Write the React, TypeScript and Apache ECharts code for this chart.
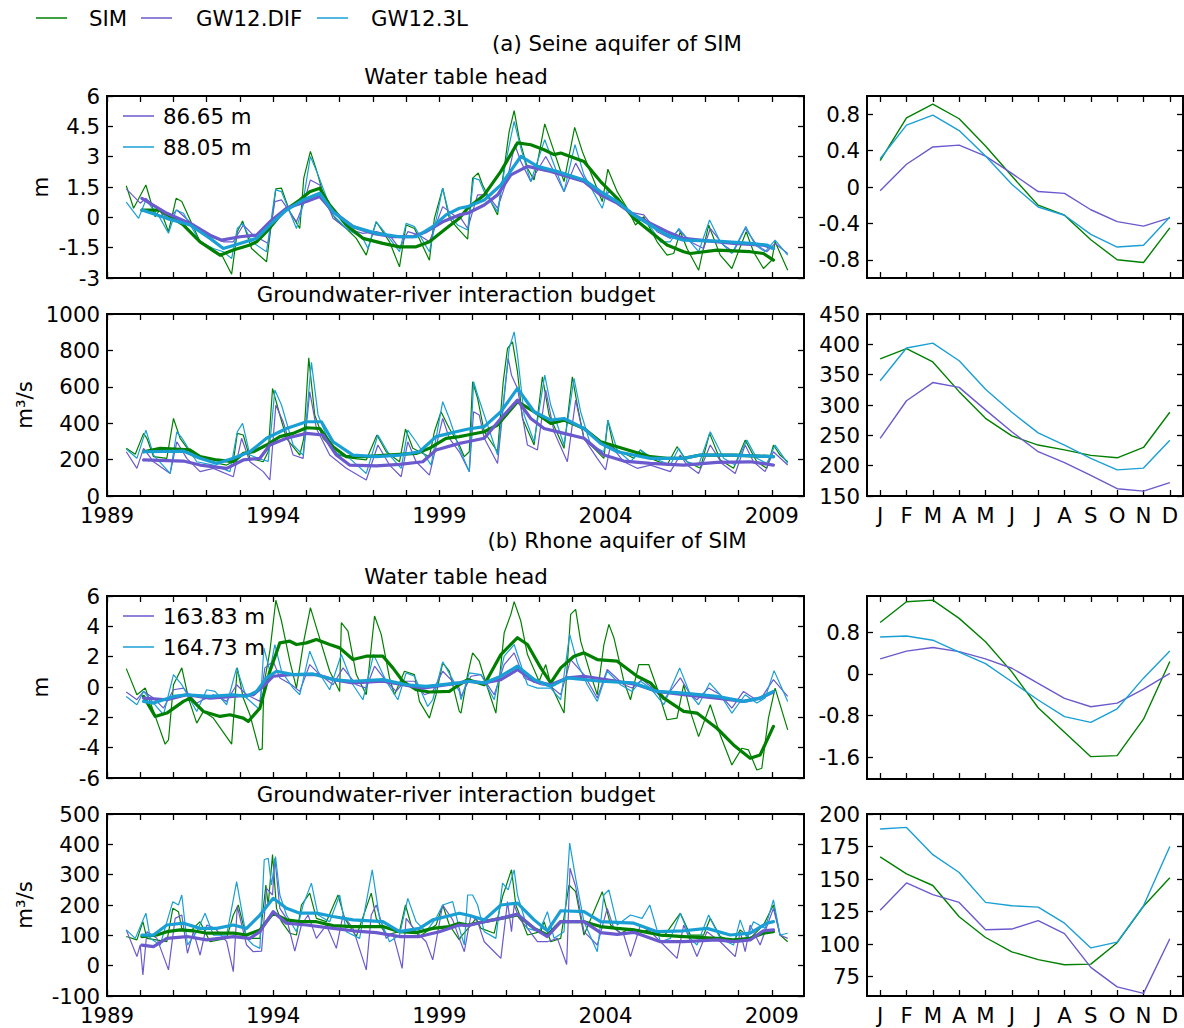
import React, { useEffect, useRef } from "react";
import * as echarts from "echarts";

// ---------- labels ----------
const monthLabels = ["J", "F", "M", "A", "M", "J", "J", "A", "S", "O", "N", "D"];
const yearLabelTicks = [1989, 1994, 1999, 2004, 2009];
const seriesNames = ["SIM", "GW12.DIF", "GW12.3L"];

// ---------- (a) Seine: water table head (m), monthly anomalies ----------
const seineHeadSim = [[1989.58,1.56],[1989.8,0.45],[1990.17,1.6],[1990.45,0.03],[1990.6,0.41],[1990.85,-0.71],[1991.08,0.94],[1991.25,0.78],[1991.8,-1.21],[1992.2,-1.7],[1992.48,-1.95],[1992.75,-2.81],[1992.92,-0.71],[1993.08,-0.18],[1993.35,-1.54],[1993.8,-2.2],[1994.08,1.41],[1994.25,1.44],[1994.5,0.28],[1994.8,-0.55],[1994.92,1.94],[1995.12,3.26],[1995.3,2.35],[1995.6,0.61],[1995.9,-0.13],[1996.2,-0.55],[1996.5,-1.04],[1996.8,-1.87],[1997.1,-0.22],[1997.5,-1.21],[1997.8,-2.45],[1998.0,-0.38],[1998.25,-0.55],[1998.7,-2.12],[1998.85,-0.05],[1999.1,1.44],[1999.3,-0.05],[1999.55,-0.55],[1999.85,-1.08],[2000.0,1.94],[2000.17,2.19],[2000.3,1.6],[2000.75,0.12],[2000.95,2.43],[2001.1,4.25],[2001.25,5.28],[2001.4,3.92],[2001.65,2.43],[2001.85,1.85],[2002.17,4.62],[2002.45,3.26],[2002.75,1.77],[2003.07,4.45],[2003.3,3.26],[2003.9,0.78],[2004.07,2.38],[2004.35,1.27],[2004.65,0.45],[2004.9,-0.38],[2005.15,0.03],[2005.55,-1.21],[2005.85,-1.87],[2006.05,-1.79],[2006.25,-0.71],[2006.45,-1.54],[2006.8,-2.62],[2007.1,-0.38],[2007.45,-1.87],[2007.8,-2.53],[2008.23,-0.71],[2008.45,-1.7],[2008.75,-2.53],[2009.0,-2.12],[2009.1,-1.21],[2009.48,-2.62]];
const seineHeadDif = [[1989.58,1.41],[1990.0,0.7],[1990.17,0.94],[1990.6,0.28],[1990.85,-0.05],[1991.1,0.36],[1991.6,-0.38],[1992.0,-0.88],[1992.5,-1.21],[1992.8,-1.21],[1993.1,-0.38],[1993.4,-0.88],[1993.85,-1.29],[1994.05,0.78],[1994.25,0.86],[1994.7,-0.22],[1994.9,0.6],[1995.12,1.85],[1995.4,1.6],[1995.8,-0.05],[1996.2,-0.55],[1996.7,-0.79],[1997.1,-0.71],[1997.5,-0.88],[1997.8,-1.54],[1998.05,-0.71],[1998.4,-0.88],[1998.7,-1.21],[1999.1,0.53],[1999.5,0.03],[1999.65,-0.05],[1999.85,-0.55],[2000.15,1.11],[2000.45,1.11],[2000.75,0.45],[2001.05,1.94],[2001.27,3.59],[2001.45,2.76],[2001.75,1.77],[2002.2,3.01],[2002.45,2.27],[2002.75,1.27],[2003.1,2.68],[2003.35,1.94],[2003.95,1.11],[2004.15,1.27],[2004.65,0.28],[2005.15,0.12],[2005.55,-0.71],[2005.95,-1.04],[2006.2,-0.63],[2006.55,-1.21],[2006.95,-1.54],[2007.15,-0.55],[2007.55,-1.37],[2007.85,-1.7],[2008.2,-0.55],[2008.55,-1.37],[2008.85,-1.7],[2009.1,-1.29],[2009.48,-1.79]];
const seineHead3L = [[1989.58,0.75],[1989.95,-0.05],[1990.17,0.86],[1990.6,-0.05],[1990.85,-0.79],[1991.08,0.36],[1991.3,0.2],[1991.8,-1.21],[1992.2,-1.54],[1992.5,-1.7],[1992.75,-2.04],[1992.92,-0.55],[1993.08,-0.3],[1993.35,-1.21],[1993.8,-1.7],[1994.07,1.36],[1994.25,1.27],[1994.7,-0.55],[1994.85,0.28],[1995.12,3.01],[1995.35,2.1],[1995.8,0.12],[1996.2,-0.55],[1996.7,-1.04],[1996.85,-1.54],[1997.1,-0.22],[1997.5,-1.04],[1997.8,-1.7],[1998.0,-0.3],[1998.25,-0.46],[1998.7,-1.7],[1999.1,1.44],[1999.3,0.12],[1999.55,-0.38],[1999.85,-0.63],[2000.03,1.94],[2000.2,1.85],[2000.35,1.27],[2000.75,0.28],[2001.0,2.76],[2001.25,4.75],[2001.45,3.43],[2001.75,1.77],[2002.17,3.84],[2002.45,2.6],[2002.75,1.27],[2003.08,3.59],[2003.35,2.1],[2003.9,0.45],[2004.05,1.36],[2004.35,0.94],[2004.85,-0.05],[2005.25,-0.22],[2005.65,-1.21],[2005.95,-1.21],[2006.2,-0.55],[2006.55,-1.21],[2006.8,-1.7],[2007.13,-0.13],[2007.45,-1.21],[2007.8,-1.79],[2008.22,-0.46],[2008.5,-1.37],[2008.8,-1.7],[2009.1,-1.13],[2009.48,-1.87]];
const seineHeadSimMean = [[1990.05,0.36],[1990.6,0.36],[1991.3,-0.38],[1991.8,-1.21],[1992.4,-1.87],[1992.8,-1.62],[1993.3,-1.37],[1993.5,-1.21],[1993.8,-0.71],[1994.3,0.28],[1994.8,0.86],[1995.1,1.27],[1995.4,1.44],[1995.7,0.61],[1996.2,-0.38],[1996.7,-1.04],[1997.3,-1.29],[1997.8,-1.46],[1998.3,-1.46],[1998.7,-1.21],[1999.2,-0.55],[1999.6,-0.05],[1999.85,0.45],[2000.35,1.11],[2000.85,2.27],[2001.35,3.68],[2001.75,3.59],[2002.15,3.34],[2002.45,3.1],[2002.65,3.18],[2003.35,2.76],[2003.85,1.77],[2004.35,0.94],[2004.85,-0.05],[2005.35,-0.71],[2005.85,-1.37],[2006.35,-1.7],[2006.55,-1.79],[2007.35,-1.62],[2008.35,-1.7],[2008.75,-1.79],[2009.05,-2.12]];
const seineHeadDifMean = [[1990.05,0.94],[1990.8,0.2],[1991.6,-0.38],[1992.1,-0.88],[1992.45,-1.13],[1993.0,-0.96],[1993.5,-0.88],[1993.9,-0.22],[1994.4,0.45],[1995.0,0.78],[1995.4,1.03],[1995.8,0.28],[1996.4,-0.46],[1997.0,-0.79],[1997.6,-0.96],[1998.2,-0.96],[1998.6,-0.71],[1999.1,-0.22],[1999.6,0.12],[1999.85,0.2],[2000.35,0.61],[2000.75,1.11],[2001.15,2.1],[2001.65,2.52],[2002.35,2.27],[2002.85,2.02],[2003.35,1.77],[2003.85,1.11],[2004.35,0.7],[2004.85,0.12],[2005.35,-0.3],[2005.85,-0.71],[2006.35,-1.04],[2006.85,-1.13],[2007.85,-1.29],[2008.75,-1.37],[2009.05,-1.54]];
const seineHead3LMean = [[1990.05,0.36],[1990.8,-0.05],[1991.5,-0.38],[1992.1,-1.04],[1992.5,-1.54],[1993.0,-1.29],[1993.5,-1.04],[1993.9,-0.38],[1994.4,0.36],[1994.9,0.86],[1995.4,1.19],[1995.8,0.28],[1996.4,-0.46],[1997.1,-0.79],[1997.8,-0.96],[1998.3,-0.96],[1998.8,-0.46],[1999.2,0.12],[1999.6,0.45],[1999.85,0.53],[2000.35,0.86],[2000.85,1.6],[2001.45,3.01],[2001.95,2.52],[2002.55,2.27],[2003.35,1.85],[2003.85,1.27],[2004.35,0.78],[2004.85,0.12],[2005.35,-0.38],[2005.85,-0.88],[2006.35,-1.13],[2007.35,-1.18],[2008.35,-1.29],[2008.85,-1.37],[2009.05,-1.54]];

// ---------- (a) Seine: groundwater-river budget (m3/s) ----------
const seineBudgetSim = [[1989.58,262],[1989.85,229],[1990.1,344],[1990.2,317],[1990.4,216],[1990.8,207],[1991.0,426],[1991.2,317],[1991.6,216],[1992.1,188],[1992.6,170],[1992.8,188],[1992.92,344],[1993.1,335],[1993.3,207],[1993.7,188],[1993.85,243],[1993.98,591],[1994.2,445],[1994.4,317],[1994.8,225],[1994.92,317],[1995.07,759],[1995.25,445],[1995.5,317],[1995.98,225],[1996.4,207],[1996.8,198],[1997.12,335],[1997.4,243],[1997.8,188],[1997.98,368],[1998.2,262],[1998.7,216],[1998.85,353],[1999.05,463],[1999.3,371],[1999.6,280],[1999.75,216],[1999.9,243],[2000.0,628],[2000.15,536],[2000.35,353],[2000.75,243],[2000.92,628],[2001.05,811],[2001.2,847],[2001.35,683],[2001.5,426],[2001.85,280],[2002.1,655],[2002.3,445],[2002.75,262],[2003.0,655],[2003.15,500],[2003.35,317],[2003.95,207],[2004.07,417],[2004.25,262],[2004.85,207],[2005.05,253],[2005.35,207],[2005.85,170],[2006.15,271],[2006.45,188],[2006.85,152],[2007.13,344],[2007.45,198],[2007.85,152],[2008.2,307],[2008.55,188],[2008.85,152],[2009.05,280],[2009.25,225],[2009.48,188]];
const seineBudgetDif = [[1989.58,243],[1989.9,152],[1990.1,262],[1990.4,188],[1990.9,124],[1991.1,298],[1991.4,207],[1991.8,134],[1992.2,152],[1992.8,106],[1993.05,317],[1993.3,188],[1993.7,134],[1993.9,88],[1994.08,500],[1994.3,408],[1994.6,225],[1994.9,207],[1995.1,573],[1995.3,371],[1995.7,225],[1996.2,152],[1996.8,88],[1997.15,280],[1997.5,170],[1997.85,106],[1998.05,298],[1998.3,188],[1998.7,115],[1999.1,426],[1999.3,317],[1999.6,243],[1999.9,134],[2000.03,463],[2000.2,445],[2000.35,317],[2000.75,179],[2001.07,756],[2001.17,664],[2001.35,591],[2001.65,280],[2001.95,253],[2002.2,582],[2002.45,353],[2002.85,188],[2003.1,527],[2003.35,317],[2003.75,207],[2004.0,143],[2004.15,280],[2004.55,188],[2004.95,152],[2005.35,170],[2005.95,134],[2006.25,225],[2006.45,170],[2006.8,124],[2007.15,280],[2007.5,179],[2007.9,124],[2008.2,280],[2008.45,188],[2008.8,134],[2009.05,243],[2009.48,170]];
const seineBudget3L = [[1989.58,258],[1989.9,207],[1990.17,362],[1990.4,225],[1990.9,124],[1991.1,353],[1991.25,320],[1991.7,188],[1992.2,170],[1992.7,134],[1992.92,353],[1993.08,399],[1993.3,225],[1993.7,198],[1993.85,190],[1994.05,582],[1994.25,500],[1994.6,280],[1994.9,225],[1995.15,734],[1995.35,445],[1995.8,243],[1996.3,207],[1996.8,124],[1997.15,335],[1997.5,225],[1997.85,152],[1998.05,362],[1998.3,298],[1998.75,170],[1999.1,518],[1999.3,426],[1999.6,262],[1999.9,134],[2000.03,628],[2000.15,555],[2000.35,445],[2000.75,225],[2001.1,811],[2001.25,902],[2001.35,774],[2001.55,445],[2001.85,298],[2002.17,664],[2002.35,500],[2002.75,280],[2003.05,646],[2003.25,463],[2003.55,280],[2003.95,243],[2004.07,417],[2004.35,253],[2004.75,188],[2005.05,253],[2005.35,216],[2005.95,170],[2006.2,262],[2006.45,188],[2006.8,170],[2007.15,353],[2007.55,207],[2007.9,170],[2008.25,307],[2008.55,207],[2008.85,179],[2009.1,280],[2009.48,179]];
const seineBudgetSimMean = [[1990.1,243],[1990.6,262],[1991.5,253],[1991.8,216],[1992.3,198],[1992.8,188],[1993.1,234],[1993.4,243],[1993.8,280],[1994.2,326],[1994.6,344],[1995.0,375],[1995.4,371],[1995.8,271],[1996.2,216],[1996.8,216],[1997.4,225],[1997.8,229],[1998.3,234],[1998.7,262],[1999.2,317],[1999.6,326],[1999.85,335],[2000.35,353],[2000.75,390],[2001.35,518],[2001.85,463],[2002.35,399],[2002.75,417],[2003.35,371],[2003.85,298],[2004.35,271],[2004.85,243],[2005.35,216],[2005.85,207],[2006.35,207],[2006.85,225],[2007.85,225],[2009.05,216]];
const seineBudgetDifMean = [[1990.1,198],[1991.3,192],[1991.8,170],[1992.6,152],[1993.1,198],[1993.6,207],[1993.9,280],[1994.4,317],[1995.0,344],[1995.5,335],[1995.9,225],[1996.3,170],[1997.1,166],[1997.8,174],[1998.5,188],[1998.9,253],[1999.6,289],[1999.85,298],[2000.35,317],[2000.85,426],[2001.35,527],[2001.75,426],[2002.15,371],[2002.75,344],[2003.35,317],[2003.95,225],[2004.55,192],[2005.35,179],[2006.35,170],[2007.35,185],[2008.35,188],[2009.05,170]];
const seineBudget3LMean = [[1990.1,243],[1991.3,247],[1991.8,207],[1992.3,179],[1992.8,207],[1993.3,243],[1993.8,317],[1994.4,371],[1995.0,408],[1995.45,408],[1995.8,298],[1996.4,225],[1997.1,216],[1997.8,225],[1998.4,243],[1998.9,326],[1999.5,353],[1999.87,368],[2000.35,381],[2000.85,463],[2001.35,591],[2001.85,463],[2002.35,417],[2002.75,426],[2003.35,371],[2003.85,289],[2004.35,243],[2005.35,207],[2006.35,207],[2006.85,225],[2007.85,225],[2009.05,216]];

// ---------- (b) Rhone: water table head (m) ----------
const rhoneHeadSim = [[1989.58,1.21],[1989.9,-0.51],[1990.15,-0.07],[1990.4,-1.61],[1990.75,-3.77],[1990.85,-3.49],[1991.0,0.15],[1991.25,1.26],[1991.45,-0.73],[1991.7,-2.38],[1991.9,-1.61],[1992.2,-2.05],[1992.75,-3.77],[1992.92,1.26],[1993.1,-0.73],[1993.3,-1.83],[1993.58,-4.15],[1993.67,-4.08],[1993.72,0.15],[1993.9,2.36],[1994.08,5.72],[1994.25,4.35],[1994.5,1.7],[1994.7,-0.07],[1994.92,3.02],[1995.12,5.23],[1995.3,3.91],[1995.7,1.04],[1996.0,-0.29],[1996.05,4.24],[1996.25,3.69],[1996.5,0.82],[1996.8,-0.51],[1997.05,4.68],[1997.25,3.47],[1997.5,0.6],[1997.65,-0.51],[1997.95,1.04],[1998.25,0.82],[1998.4,-0.95],[1998.7,-2.05],[1998.9,-0.51],[1999.1,1.59],[1999.3,1.04],[1999.6,-1.61],[1999.65,-1.72],[1999.85,0.82],[2000.0,2.25],[2000.2,1.7],[2000.45,-0.07],[2000.7,-1.72],[2000.95,3.58],[2001.15,4.79],[2001.25,5.63],[2001.45,4.35],[2001.65,2.14],[2002.0,0.38],[2002.2,1.48],[2002.35,0.15],[2002.75,-1.72],[2002.95,4.79],[2003.1,5.12],[2003.25,3.02],[2003.55,0.82],[2003.75,-0.51],[2003.95,2.8],[2004.1,4.13],[2004.25,3.25],[2004.55,0.38],[2004.75,-0.84],[2005.0,1.48],[2005.3,1.48],[2005.55,-0.07],[2005.85,-2.16],[2006.15,-2.05],[2006.35,0.15],[2006.55,-1.61],[2006.8,-3.27],[2007.15,-1.17],[2007.45,-3.16],[2007.8,-5.14],[2008.1,-4.04],[2008.3,-4.15],[2008.55,-5.47],[2008.7,-5.36],[2008.9,-2.05],[2009.1,-0.07],[2009.48,-2.83]];
const rhoneHeadDif = [[1989.58,-0.33],[1989.9,-0.84],[1990.1,-0.29],[1990.4,-0.73],[1990.7,-1.39],[1991.0,-0.18],[1991.3,-0.07],[1991.7,-1.06],[1992.2,-0.51],[1992.6,-0.95],[1992.9,0.15],[1993.2,-0.51],[1993.6,-0.95],[1993.75,1.26],[1994.0,1.7],[1994.2,0.6],[1994.55,0.15],[1994.8,-0.29],[1995.1,1.48],[1995.4,0.82],[1995.8,0.15],[1996.1,1.26],[1996.5,0.15],[1996.8,-0.07],[1997.05,1.37],[1997.4,0.38],[1997.7,-0.29],[1997.95,0.38],[1998.25,0.38],[1998.55,-0.51],[1998.8,-0.29],[1999.1,1.04],[1999.6,-0.07],[1999.65,-0.62],[1999.95,0.71],[2000.25,0.82],[2000.65,-0.51],[2000.95,1.48],[2001.25,2.25],[2001.55,0.6],[2002.05,0.15],[2002.35,0.04],[2002.65,-0.51],[2002.95,1.81],[2003.35,0.82],[2003.75,-0.73],[2004.05,1.15],[2004.55,0.15],[2004.8,-0.07],[2005.1,0.49],[2005.35,0.04],[2005.75,-0.84],[2006.25,0.6],[2006.55,-0.51],[2006.75,-0.84],[2007.1,-0.07],[2007.45,-0.51],[2007.8,-1.39],[2008.15,-0.29],[2008.45,-0.73],[2008.65,-0.84],[2009.05,0.49],[2009.48,-0.62]];
const rhoneHead3L = [[1989.58,-0.62],[1989.9,-1.17],[1990.1,-0.29],[1990.4,-1.06],[1990.7,-1.83],[1991.0,0.82],[1991.25,0.15],[1991.7,-1.61],[1992.0,-0.18],[1992.25,-0.29],[1992.6,-1.17],[1992.9,1.26],[1993.2,-0.73],[1993.6,-1.5],[1993.72,2.58],[1993.9,1.04],[1994.05,2.8],[1994.25,1.04],[1994.6,-0.07],[1994.8,-0.51],[1995.1,2.36],[1995.35,1.04],[1995.7,-0.18],[1996.05,2.14],[1996.4,0.15],[1996.7,-0.84],[1997.02,2.14],[1997.4,0.38],[1997.75,-0.84],[1998.0,0.93],[1998.25,0.71],[1998.65,-1.28],[1998.8,-0.84],[1999.1,1.66],[1999.6,-0.29],[1999.65,-0.84],[1999.9,0.93],[2000.25,0.82],[2000.65,-0.84],[2000.95,2.03],[2001.25,2.8],[2001.65,0.15],[2001.95,-0.07],[2002.35,-0.07],[2002.65,-0.84],[2002.92,3.47],[2003.15,1.59],[2003.45,0.15],[2003.75,-0.95],[2004.05,1.04],[2004.45,0.15],[2004.8,-0.29],[2005.05,0.38],[2005.35,-0.07],[2005.75,-1.17],[2006.23,1.26],[2006.55,-0.51],[2006.8,-1.17],[2007.13,0.27],[2007.45,-0.51],[2007.8,-1.72],[2008.2,-0.51],[2008.55,-1.06],[2008.8,-0.73],[2009.07,1.08],[2009.48,-0.95]];
const rhoneHeadSimMean = [[1990.1,-0.62],[1990.45,-1.94],[1990.8,-1.72],[1991.3,-0.95],[1991.5,-0.73],[1991.9,-1.61],[1992.4,-1.94],[1992.7,-1.83],[1993.1,-2.05],[1993.25,-2.27],[1993.6,-1.39],[1993.9,1.04],[1994.2,2.91],[1994.5,3.02],[1994.7,2.8],[1995.0,2.91],[1995.3,3.13],[1995.7,2.8],[1996.0,2.58],[1996.4,1.81],[1996.8,2.03],[1997.3,2.03],[1997.6,1.26],[1997.9,0.38],[1998.3,-0.18],[1998.7,-0.33],[1999.3,-0.29],[1999.6,0.15],[1999.85,0.49],[2000.35,0.15],[2000.85,2.14],[2001.35,3.25],[2001.65,2.8],[2002.05,1.26],[2002.35,0.27],[2002.65,1.26],[2003.05,2.03],[2003.35,2.25],[2003.75,1.81],[2004.35,1.7],[2004.95,0.71],[2005.35,0.27],[2005.75,-0.73],[2006.35,-1.61],[2006.75,-1.72],[2007.35,-2.72],[2007.85,-3.82],[2008.35,-4.7],[2008.65,-4.48],[2009.05,-2.6]];
const rhoneHeadDifMean = [[1990.1,-0.73],[1990.8,-0.84],[1991.4,-0.51],[1992.1,-0.73],[1992.8,-0.62],[1993.4,-0.51],[1993.7,0.04],[1994.0,0.71],[1994.5,0.82],[1995.3,0.82],[1995.8,0.49],[1996.4,0.27],[1997.3,0.38],[1997.9,0.15],[1998.5,-0.07],[1999.6,0.27],[1999.85,0.38],[2000.35,0.27],[2000.85,0.49],[2001.35,1.15],[2001.85,0.38],[2002.35,0.15],[2002.85,0.6],[2003.35,0.71],[2004.35,0.38],[2004.95,0.15],[2005.55,-0.29],[2006.35,-0.51],[2007.35,-0.73],[2008.15,-0.95],[2008.65,-0.73],[2009.05,-0.33]];
const rhoneHead3LMean = [[1990.1,-0.95],[1990.4,-1.06],[1991.0,-0.62],[1991.4,-0.51],[1992.1,-0.62],[1992.8,-0.51],[1993.2,-0.62],[1993.5,-0.29],[1993.8,0.6],[1994.1,1.04],[1994.6,0.82],[1995.2,0.86],[1995.8,0.49],[1996.4,0.38],[1997.3,0.49],[1998.0,0.15],[1998.6,0.04],[1999.6,0.27],[1999.85,0.38],[2000.35,0.27],[2000.85,0.71],[2001.35,1.37],[2001.85,0.49],[2002.35,0.04],[2002.85,0.6],[2003.85,0.38],[2004.85,0.27],[2005.55,-0.29],[2006.35,-0.4],[2007.35,-0.62],[2008.15,-0.95],[2008.65,-0.73],[2009.05,-0.29]];

// ---------- (b) Rhone: groundwater-river budget (m3/s) ----------
const rhoneBudgetSim = [[1989.58,96],[1989.9,85],[1990.08,145],[1990.2,90],[1990.8,79],[1990.98,189],[1991.15,178],[1991.25,123],[1991.5,112],[1991.8,145],[1992.1,79],[1992.6,90],[1992.8,167],[1992.95,200],[1993.2,90],[1993.6,90],[1993.78,266],[1993.85,200],[1993.98,366],[1994.1,189],[1994.25,145],[1994.5,107],[1994.7,101],[1994.85,200],[1995.1,239],[1995.3,156],[1995.6,145],[1995.95,233],[1996.15,156],[1996.5,96],[1996.95,239],[1997.1,156],[1997.4,101],[1997.8,112],[1997.98,200],[1998.15,134],[1998.4,96],[1998.9,134],[1999.1,200],[1999.3,134],[1999.6,85],[1999.65,96],[1999.95,134],[2000.1,156],[2000.25,123],[2000.65,107],[2000.9,228],[2001.17,316],[2001.3,200],[2001.65,101],[2002.05,112],[2002.15,145],[2002.35,79],[2002.65,90],[2002.9,266],[2003.1,244],[2003.35,101],[2003.9,244],[2004.15,134],[2004.45,107],[2004.75,123],[2005.05,112],[2005.35,118],[2005.75,96],[2006.25,173],[2006.55,101],[2006.95,101],[2007.15,156],[2007.45,96],[2007.85,79],[2008.05,118],[2008.35,90],[2008.75,134],[2008.9,167],[2009.05,200],[2009.25,101],[2009.48,79]];
const rhoneBudgetDif = [[1989.58,118],[1989.9,30],[1990.0,68],[1990.08,-31],[1990.2,112],[1990.5,90],[1990.85,-14],[1991.05,156],[1991.25,167],[1991.42,41],[1991.6,112],[1991.8,35],[1992.0,134],[1992.25,123],[1992.6,79],[1992.8,-20],[1992.92,195],[1993.2,68],[1993.4,46],[1993.65,48],[1993.8,255],[1993.98,233],[1994.05,354],[1994.2,189],[1994.4,156],[1994.65,48],[1994.85,134],[1995.05,167],[1995.3,90],[1995.6,134],[1995.9,57],[1996.1,167],[1996.4,123],[1996.8,-14],[1996.95,167],[1997.1,200],[1997.4,90],[1997.6,107],[1997.88,-9],[1998.0,156],[1998.3,112],[1998.6,79],[1998.8,19],[1999.1,200],[1999.4,151],[1999.6,90],[1999.75,46],[1999.95,167],[2000.15,145],[2000.35,79],[2000.65,46],[2000.85,24],[2001.05,211],[2001.17,112],[2001.25,200],[2001.4,156],[2001.65,123],[2001.95,79],[2002.25,79],[2002.55,90],[2002.83,4],[2002.93,321],[2003.1,261],[2003.35,112],[2003.75,68],[2004.05,189],[2004.25,123],[2004.55,101],[2004.75,30],[2005.05,134],[2005.35,112],[2005.75,68],[2006.15,24],[2006.35,134],[2006.75,30],[2007.05,112],[2007.45,79],[2007.9,30],[2008.05,112],[2008.2,46],[2008.35,134],[2008.65,68],[2009.05,189],[2009.25,101],[2009.48,90]];
const rhoneBudget3L = [[1989.58,118],[1989.85,90],[1990.17,173],[1990.3,90],[1990.6,68],[1990.98,211],[1991.15,200],[1991.25,233],[1991.42,68],[1991.7,112],[1991.95,173],[1992.2,101],[1992.6,101],[1992.9,277],[1993.2,90],[1993.4,68],[1993.6,57],[1993.73,349],[1993.85,354],[1993.95,266],[1994.07,360],[1994.2,233],[1994.4,167],[1994.7,112],[1994.9,200],[1995.15,272],[1995.35,167],[1995.7,145],[1996.0,233],[1996.2,112],[1996.6,90],[1996.98,316],[1997.2,156],[1997.5,79],[1997.8,101],[1998.05,222],[1998.3,145],[1998.6,112],[1998.9,156],[1999.1,200],[1999.4,211],[1999.6,123],[1999.75,68],[1999.85,233],[2000.0,233],[2000.15,200],[2000.35,112],[2000.7,90],[2000.9,272],[2001.07,250],[2001.25,316],[2001.35,233],[2001.65,123],[2002.0,112],[2002.25,178],[2002.45,90],[2002.75,112],[2002.92,404],[2003.1,288],[2003.35,145],[2003.75,46],[2003.95,233],[2004.1,250],[2004.35,134],[2004.75,167],[2005.1,156],[2005.33,200],[2005.65,79],[2005.95,90],[2006.25,173],[2006.55,90],[2006.75,68],[2007.1,167],[2007.45,90],[2007.85,68],[2008.05,151],[2008.25,90],[2008.45,145],[2008.8,123],[2009.05,217],[2009.25,101],[2009.48,107]];
const rhoneBudgetSimMean = [[1990.05,96],[1990.5,101],[1990.8,112],[1991.2,118],[1991.6,115],[1992.0,107],[1992.4,107],[1992.8,107],[1993.2,101],[1993.6,118],[1994.0,173],[1994.4,151],[1994.8,145],[1995.3,145],[1995.8,132],[1996.4,129],[1996.8,129],[1997.3,129],[1997.8,112],[1998.3,109],[1998.8,123],[1999.3,129],[1999.6,140],[1999.85,134],[2000.35,145],[2000.85,156],[2001.35,167],[2001.85,123],[2002.25,101],[2002.65,145],[2003.35,145],[2003.85,129],[2004.35,123],[2004.85,118],[2005.65,101],[2006.35,96],[2007.35,90],[2007.85,85],[2008.35,90],[2008.75,107],[2009.05,112]];
const rhoneBudgetDifMean = [[1990.05,68],[1990.4,63],[1990.8,90],[1991.4,96],[1992.0,85],[1992.8,96],[1993.3,90],[1993.6,112],[1994.0,178],[1994.4,140],[1995.0,134],[1995.8,123],[1996.4,115],[1997.1,109],[1997.8,96],[1998.4,96],[1999.0,112],[1999.6,134],[1999.85,132],[2000.35,145],[2000.85,156],[2001.35,170],[2001.85,123],[2002.25,96],[2002.65,145],[2003.35,145],[2003.85,109],[2004.35,103],[2004.85,110],[2005.65,79],[2006.35,79],[2007.35,85],[2007.85,79],[2008.35,85],[2008.75,115],[2009.05,118]];
const rhoneBudget3LMean = [[1990.05,101],[1990.4,101],[1990.8,134],[1991.3,140],[1991.8,123],[1992.3,123],[1992.8,134],[1993.2,123],[1993.6,167],[1994.0,222],[1994.4,189],[1994.8,173],[1995.3,173],[1995.8,162],[1996.4,151],[1997.3,145],[1997.8,112],[1998.4,123],[1998.8,151],[1999.6,173],[1999.85,167],[2000.35,151],[2000.85,200],[2001.35,206],[2001.85,151],[2002.25,115],[2002.65,181],[2003.35,178],[2003.85,145],[2004.35,143],[2004.85,140],[2005.55,112],[2006.35,115],[2007.05,123],[2007.75,101],[2008.35,107],[2008.85,140],[2009.05,145]];

// ---------- mean seasonal cycles (J..D) ----------
const seineHeadSeasSim = [0.29, 0.76, 0.91, 0.75, 0.45, 0.12, -0.2, -0.31, -0.58, -0.8, -0.83, -0.45];
const seineHeadSeasDif = [-0.04, 0.25, 0.44, 0.46, 0.34, 0.15, -0.05, -0.07, -0.25, -0.38, -0.43, -0.34];
const seineHeadSeas3L = [0.31, 0.68, 0.79, 0.62, 0.34, 0.03, -0.22, -0.31, -0.52, -0.66, -0.64, -0.33];
const seineBudgetSeasSim = [376, 393, 371, 322, 278, 249, 234, 226, 217, 213, 230, 288];
const seineBudgetSeasDif = [245, 307, 337, 329, 292, 256, 223, 205, 184, 162, 158, 172];
const seineBudgetSeas3L = [340, 394, 402, 373, 326, 288, 254, 234, 212, 193, 196, 242];
const rhoneHeadSeasSim = [0.99, 1.39, 1.42, 1.07, 0.62, 0.04, -0.65, -1.12, -1.59, -1.57, -0.87, 0.24];
const rhoneHeadSeasDif = [0.29, 0.44, 0.51, 0.43, 0.29, 0.11, -0.18, -0.47, -0.63, -0.56, -0.29, 0.01];
const rhoneHeadSeas3L = [0.71, 0.73, 0.65, 0.42, 0.2, -0.15, -0.5, -0.82, -0.93, -0.67, -0.08, 0.44];
const rhoneBudgetSeasSim = [167, 154, 145, 121, 105, 94, 88, 84, 84.5, 101, 129, 151];
const rhoneBudgetSeasDif = [126, 147, 138, 132, 111, 111.5, 118, 108, 82, 67, 62, 104];
const rhoneBudgetSeas3L = [188.5, 189.7, 168.7, 155, 132, 129.4, 128.4, 116, 97, 101.4, 129.4, 175];

// ---------- tick values ----------
const seineHeadTicks = [-3, -1.5, 0, 1.5, 3, 4.5, 6];
const seineBudgetTicks = [0, 200, 400, 600, 800, 1000];
const rhoneHeadTicks = [-6, -4, -2, 0, 2, 4, 6];
const rhoneBudgetTicks = [-100, 0, 100, 200, 300, 400, 500];
const seineHeadSeasTicks = [-0.8, -0.4, 0, 0.4, 0.8];
const seineBudgetSeasTicks = [150, 200, 250, 300, 350, 400, 450];
const rhoneHeadSeasTicks = [-1.6, -0.8, 0, 0.8];
const rhoneBudgetSeasTicks = [75, 100, 125, 150, 175, 200];

// ---------- styling ----------
const FONT = "DejaVu Sans";
const FS = 21.3;
const C_SIM = "#008000";
const C_DIF = "#6a5acd";
const C_3L = "#1a9fd5";
const COLORS = [C_SIM, C_DIF, C_3L];

const yearMinorTicks = Array.from({ length: 21 }, (_, i) => 1989 + i);
const monthTicks = monthLabels.map((_, i) => i);

function App() {
  const ref = useRef<HTMLDivElement>(null);

  useEffect(() => {
    const chart = echarts.init(ref.current!, null, { renderer: "svg" });

    const tickStyle = { color: "#000", width: 1.3 };
    const labelStyle = { fontFamily: FONT, fontSize: FS, color: "#000" };

    const panels = [
      { left: 107, top: 96, width: 697, height: 182, kind: "time", xLabels: false, yMin: -3, yMax: 6, yTicks: seineHeadTicks,
        thin: [seineHeadSim, seineHeadDif, seineHead3L], thick: [seineHeadSimMean, seineHeadDifMean, seineHead3LMean] },
      { left: 107, top: 314, width: 697, height: 182, kind: "time", xLabels: true, yMin: 0, yMax: 1000, yTicks: seineBudgetTicks,
        thin: [seineBudgetSim, seineBudgetDif, seineBudget3L], thick: [seineBudgetSimMean, seineBudgetDifMean, seineBudget3LMean] },
      { left: 107, top: 596, width: 697, height: 182, kind: "time", xLabels: false, yMin: -6, yMax: 6, yTicks: rhoneHeadTicks,
        thin: [rhoneHeadSim, rhoneHeadDif, rhoneHead3L], thick: [rhoneHeadSimMean, rhoneHeadDifMean, rhoneHead3LMean] },
      { left: 107, top: 814, width: 697, height: 182, kind: "time", xLabels: true, yMin: -100, yMax: 500, yTicks: rhoneBudgetTicks,
        thin: [rhoneBudgetSim, rhoneBudgetDif, rhoneBudget3L], thick: [rhoneBudgetSimMean, rhoneBudgetDifMean, rhoneBudget3LMean] },
      { left: 867, top: 96, width: 316, height: 182, kind: "month", xLabels: false, yMin: -1, yMax: 1, yTicks: seineHeadSeasTicks,
        thin: [seineHeadSeasSim, seineHeadSeasDif, seineHeadSeas3L], thick: [] },
      { left: 867, top: 314, width: 316, height: 182, kind: "month", xLabels: true, yMin: 150, yMax: 450, yTicks: seineBudgetSeasTicks,
        thin: [seineBudgetSeasSim, seineBudgetSeasDif, seineBudgetSeas3L], thick: [] },
      { left: 867, top: 596, width: 316, height: 183, kind: "month", xLabels: false, yMin: -2.02, yMax: 1.5, yTicks: rhoneHeadSeasTicks,
        thin: [rhoneHeadSeasSim, rhoneHeadSeasDif, rhoneHeadSeas3L], thick: [] },
      { left: 867, top: 814, width: 316, height: 182, kind: "month", xLabels: true, yMin: 60, yMax: 200, yTicks: rhoneBudgetSeasTicks,
        thin: [rhoneBudgetSeasSim, rhoneBudgetSeasDif, rhoneBudgetSeas3L], thick: [] },
    ] as any[];

    const grid: any[] = [];
    const xAxis: any[] = [];
    const yAxis: any[] = [];
    const series: any[] = [];

    panels.forEach((p, g) => {
      grid.push({ left: p.left, top: p.top, width: p.width, height: p.height, show: true, borderColor: "#000", borderWidth: 2, backgroundColor: "transparent" });
      const isTime = p.kind === "time";
      const xMin = isTime ? 1989 : -0.5;
      const xMax = isTime ? 2009.97 : 11.5;
      const xTickVals = isTime ? yearMinorTicks : monthTicks;
      const xLabelVals = isTime ? yearLabelTicks : monthTicks;
      const baseX = {
        type: "value", gridIndex: g, min: xMin, max: xMax,
        axisLine: { show: false, onZero: false }, splitLine: { show: false },
        axisTick: { show: true, inside: true, length: 6, lineStyle: tickStyle, customValues: xTickVals },
      };
      xAxis.push({
        ...baseX, position: "bottom",
        axisLabel: {
          show: p.xLabels, customValues: xLabelVals, margin: 9, ...labelStyle,
          formatter: (v: number) => (isTime ? String(Math.round(v)) : monthLabels[Math.round(v)]),
        },
      });
      xAxis.push({ ...baseX, position: "top", axisLabel: { show: false } });
      const baseY = {
        type: "value", gridIndex: g, min: p.yMin, max: p.yMax,
        axisLine: { show: false, onZero: false }, splitLine: { show: false },
        axisTick: { show: true, inside: true, length: 6, lineStyle: tickStyle, customValues: p.yTicks },
      };
      yAxis.push({
        ...baseY, position: "left",
        axisLabel: { show: true, customValues: p.yTicks, margin: 7, ...labelStyle, formatter: (v: number) => String(v) },
      });
      yAxis.push({ ...baseY, position: "right", axisLabel: { show: false } });

      const xi = 2 * g;
      const yi = 2 * g;
      p.thin.forEach((d: any[], k: number) => {
        const data = isTime ? d : (d as number[]).map((v, i) => [i, v]);
        series.push({
          type: "line", name: seriesNames[k], xAxisIndex: xi, yAxisIndex: yi, data,
          showSymbol: false, symbol: "none", silent: true,
          lineStyle: { color: COLORS[k], width: isTime ? 1.2 : 1.4 },
          itemStyle: { color: COLORS[k] },
        });
      });
      p.thick.forEach((d: any[], k: number) => {
        series.push({
          type: "line", name: seriesNames[k] + " mean", xAxisIndex: xi, yAxisIndex: yi, data: d,
          showSymbol: false, symbol: "none", silent: true,
          lineStyle: { color: COLORS[k], width: 3.2, cap: "round", join: "round" },
          itemStyle: { color: COLORS[k] },
        });
      });
    });

    const txt = (text: string, x: number, y: number, extra: any = {}) => ({
      type: "text", x, y, silent: true,
      style: { text, fontFamily: FONT, fontSize: FS, fill: "#000", textAlign: "left", textVerticalAlign: "middle", ...extra },
    });
    const seg = (x1: number, x2: number, y: number, color: string, w = 1.5) => ({
      type: "line", silent: true, shape: { x1, y1: y, x2, y2: y }, style: { stroke: color, lineWidth: w },
    });
    const rotTxt = (text: string, x: number, y: number) => ({
      type: "text", x, y, rotation: Math.PI / 2, silent: true,
      style: { text, fontFamily: FONT, fontSize: FS, fill: "#000", textAlign: "center", textVerticalAlign: "middle" },
    });

    const graphic = [
      // top legend
      seg(36, 67, 18, C_SIM), txt("SIM", 89, 18),
      seg(141, 172, 18, C_DIF), txt("GW12.DIF", 196, 18),
      seg(317, 348, 18, C_3L), txt("GW12.3L", 371, 18),
      // section titles
      txt("(a) Seine aquifer of SIM", 617, 43, { textAlign: "center" }),
      txt("Water table head", 456, 76, { textAlign: "center" }),
      txt("Groundwater-river interaction budget", 456, 294, { textAlign: "center" }),
      txt("(b) Rhone aquifer of SIM", 617, 540, { textAlign: "center" }),
      txt("Water table head", 456, 576, { textAlign: "center" }),
      txt("Groundwater-river interaction budget", 456, 794, { textAlign: "center" }),
      // y axis names
      rotTxt("m", 40, 187),
      rotTxt("m³/s", 24, 405),
      rotTxt("m", 40, 687),
      rotTxt("m³/s", 24, 905),
      // in-panel legends
      seg(123, 154, 116, C_DIF), txt("86.65 m", 163, 116),
      seg(123, 154, 147, C_3L), txt("88.05 m", 163, 147),
      seg(123, 154, 616, C_DIF), txt("163.83 m", 163, 616),
      seg(123, 154, 647, C_3L), txt("164.73 m", 163, 647),
    ];

    chart.setOption({
      animation: false,
      backgroundColor: "#fff",
      grid, xAxis, yAxis, series, graphic,
    });

    return () => chart.dispose();
  }, []);

  return <div ref={ref} style={{ position: "absolute", left: 0, top: 0, width: 1184, height: 1028, background: "#fff" }} />;
}

export default App;
